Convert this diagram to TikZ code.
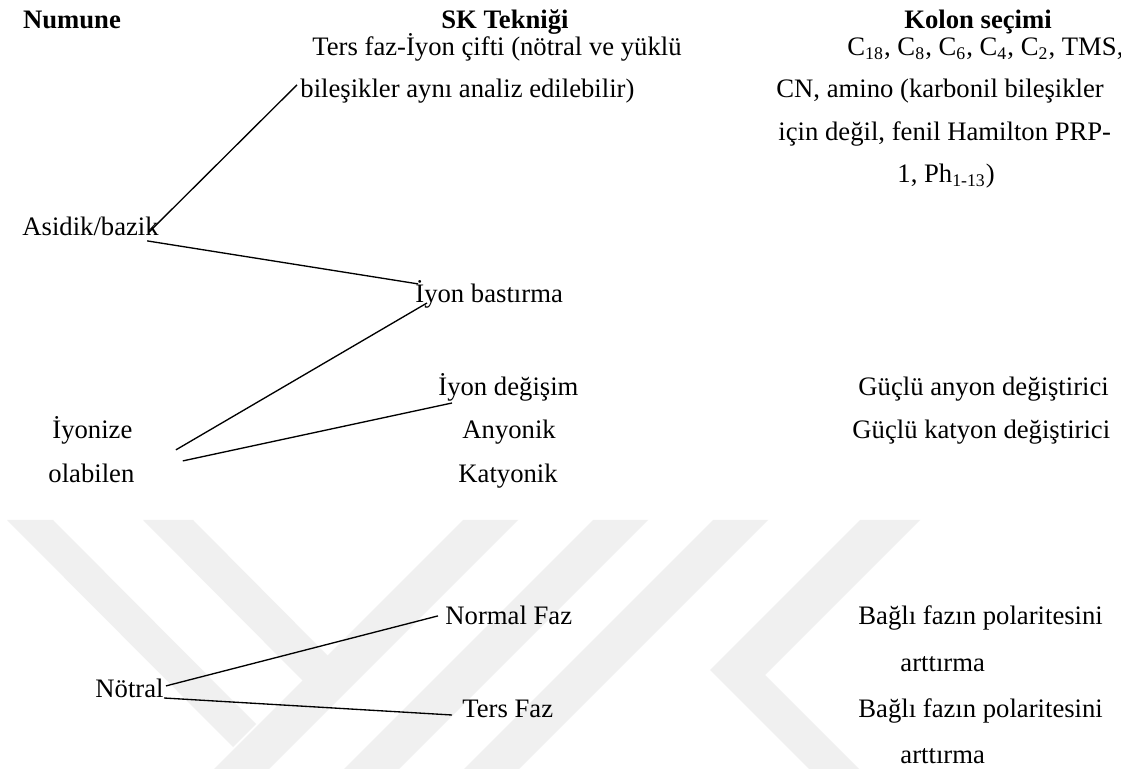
\documentclass[tikz,border=0pt]{standalone}
\usepackage{fontspec}
\setmainfont{Liberation Serif}
\usetikzlibrary{calc}
\definecolor{wmgray}{RGB}{240,240,240}

\begin{document}
\begin{tikzpicture}[x=0.45pt,y=-0.45pt,
  txt/.style={inner sep=0pt,anchor=base west,font=\fontsize{12}{14}\selectfont},
  hdr/.style={inner sep=0pt,anchor=base,font=\fontsize{12}{14}\selectfont\bfseries},
  wm/.style={fill=wmgray},
  link/.style={line width=0.6pt}]
  \fill[white] (0,0) rectangle (1121,769);
  \useasboundingbox (0,0) rectangle (1121,769);

  % watermark in the back
  \fill[wm] (7,520) -- (53,520) -- (256,724) -- (233,747) -- cycle;
  \fill[wm] (143,520) -- (193,520) -- (328,656) -- (303,681) -- cycle;
  \foreach \x in {463,593,713} {
    \fill[wm] (\x,520) -- ++(55,0) -- ++(-249,249) -- ++(-55,0) -- cycle;
  }
  \fill[wm] (860,520) -- (920,520) -- (765,675) -- (859,769) -- (809,769) -- (710,670) -- cycle;

  % column heads
  \node[hdr] (numune) at (72,29) {Numune};
  \node[hdr] (sk) at (505,29) {SK Tekniği};
  \node[hdr] (kolon) at (978,29) {Kolon seçimi};

  % Numune column
  \node[txt] (asid) at (22,236) {Asidik/bazik};
  \node[txt] (iyz) at (52,439) {İyonize};
  \node[txt] (olab) at (48,483) {olabilen};
  \node[txt] (nt) at (95,697) {Nötral};

  % SK column
  \node[txt] (tfic) at (312,56) {Ters faz-İyon çifti (nötral ve yüklü};
  \node[txt] (bil) at (300,98) {bileşikler aynı analiz edilebilir)};
  \node[txt] (ib) at (415,303) {İyon bastırma};
  \node[txt] (id) at (438,396) {İyon değişim};
  \node[txt] (any) at (462,439) {Anyonik};
  \node[txt] (kat) at (458,483) {Katyonik};
  \node[txt] (nf) at (445,625) {Normal Faz};
  \node[txt] (tf) at (462,717) {Ters Faz};

  % Kolon column
  \node[txt] (c18) at (847,56) {C\textsubscript{18}, C\textsubscript{8}, C\textsubscript{6}, C\textsubscript{4}, C\textsubscript{2}, TMS,};
  \node[txt] (cn) at (776,98) {CN, amino (karbonil bileşikler};
  \node[txt] (icin) at (778,141) {için değil, fenil Hamilton PRP-};
  \node[txt] (ph) at (897,183) {1, Ph\textsubscript{1-13})};
  \node[txt] (gan) at (858,396) {Güçlü anyon değiştirici};
  \node[txt] (gkat) at (852,439) {Güçlü katyon değiştirici};
  \node[txt] (bag1) at (858,625) {Bağlı fazın polaritesini};
  \node[txt] (art1) at (900,671) {arttırma};
  \node[txt] (bag2) at (858,717) {Bağlı fazın polaritesini};
  \node[txt] (art2) at (900,763) {arttırma};

  % links
  \draw[link] ([shift={(-10,1)}]asid.mid east) -- ([shift={(-3,-8)}]bil.mid west);
  \draw[link] ([shift={(-12,10)}]asid.mid east) -- ([shift={(3,-14)}]ib.mid west);
  \draw[link] ([shift={(43,16)}]iyz.mid east) -- ([shift={(12,0)}]ib.base west);
  \draw[link] ([shift={(50,27)}]iyz.mid east) -- ([shift={(14,7)}]id.base west);
  \draw[link] ([shift={(2,-6)}]nt.mid east) -- ([shift={(-7,-4)}]nf.mid west);
  \draw[link] ([shift={(0,1)}]nt.base east) -- ([shift={(-10,-2)}]tf.base west);
\end{tikzpicture}
\end{document}
